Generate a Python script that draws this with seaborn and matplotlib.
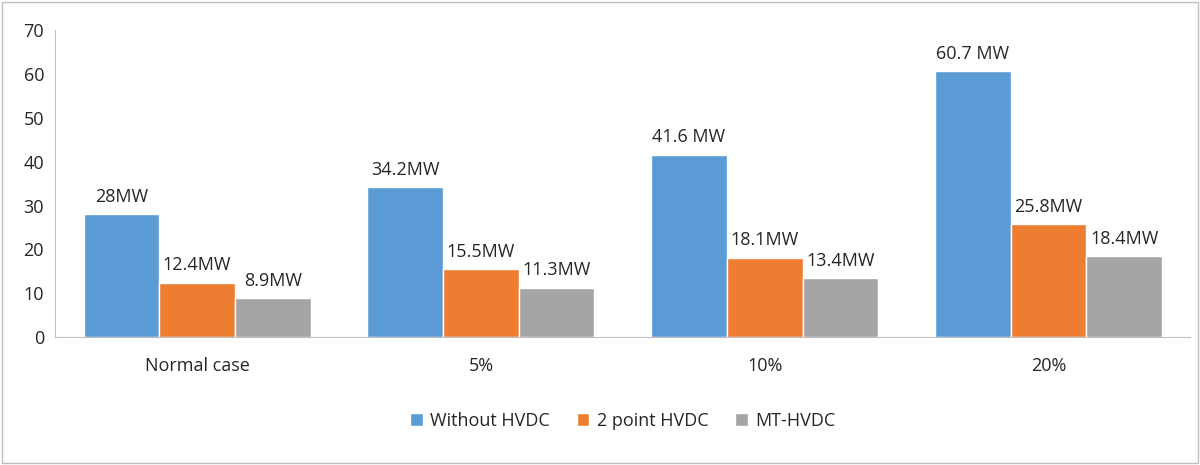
import pandas as pd
import seaborn as sns
from matplotlib import pyplot as plt
from matplotlib.patches import Rectangle

cases = ["Normal case", "5%", "10%", "20%"]
series = ["Without HVDC", "2 point HVDC", "MT-HVDC"]
without_hvdc = [28, 34.2, 41.6, 60.7]
two_point = [12.4, 15.5, 18.1, 25.8]
mt_hvdc = [8.9, 11.3, 13.4, 18.4]
labels = [["28MW", "34.2MW", "41.6 MW", "60.7 MW"],
          ["12.4MW", "15.5MW", "18.1MW", "25.8MW"],
          ["8.9MW", "11.3MW", "13.4MW", "18.4MW"]]
colors = ["#5B9BD5", "#ED7D31", "#A5A5A5"]

rows = []
for s, vals in zip(series, [without_hvdc, two_point, mt_hvdc]):
    for c, v in zip(cases, vals):
        rows.append({"case": c, "series": s, "value": v})
df = pd.DataFrame(rows)

sns.set_style("white")
plt.rcParams['font.family'] = ['Open Sans', 'DejaVu Sans']

fig = plt.figure(figsize=(12, 4.65), dpi=100)
ax = fig.add_axes([0.046, 0.275, 0.946, 0.66])
sns.barplot(ax=ax, data=df, x="case", y="value", hue="series",
            palette=colors, width=0.8, saturation=1)

for cont, labs in zip(ax.containers, labels):
    ax.bar_label(cont, labels=labs, padding=6, fontsize=13)

ax.set_ylim(0, 70)
ax.set_yticks(range(0, 71, 10))
ax.set_xlabel("")
ax.set_ylabel("")
ax.tick_params(axis="both", labelsize=13, length=0, pad=8)
ax.tick_params(axis="x", pad=14)
for side in ["top", "right"]:
    ax.spines[side].set_visible(False)
for side in ["left", "bottom"]:
    ax.spines[side].set_color("#BFBFBF")

ax.legend(loc="upper center", bbox_to_anchor=(0.5, -0.19), ncol=3,
          frameon=False, fontsize=13, handlelength=0.7, handleheight=0.7,
          columnspacing=1.5, handletextpad=0.4)

fig.patches.append(Rectangle((0.002, 0.004), 0.996, 0.992, transform=fig.transFigure,
                             fill=False, edgecolor="#BFBFBF", linewidth=1))
fig.savefig("out.png")
